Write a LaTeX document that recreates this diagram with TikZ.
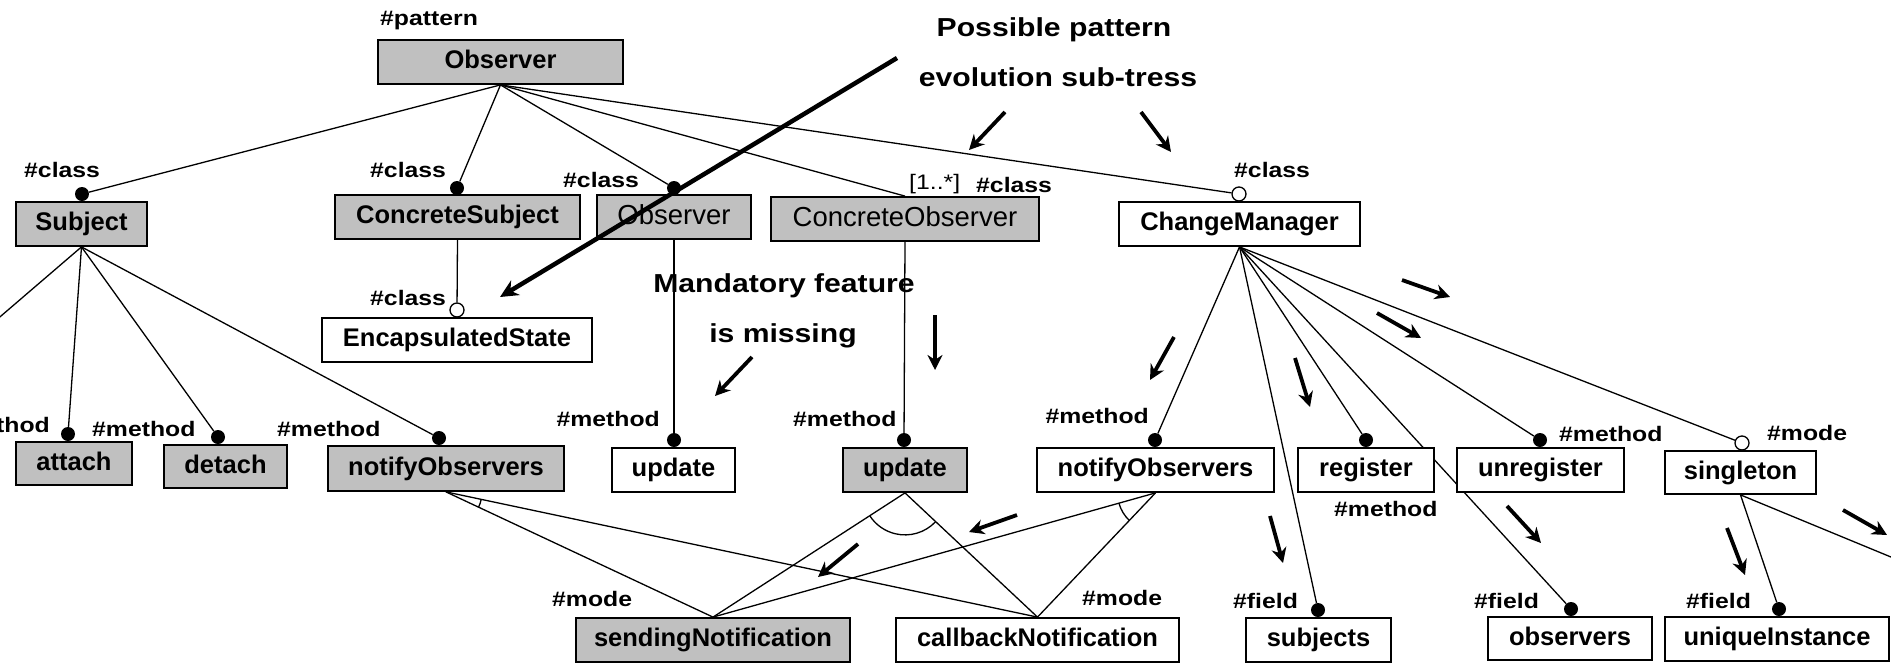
\documentclass[tikz,border=0pt]{standalone}
\usepackage{fontspec}
\setmainfont{Liberation Sans}
\newfontfamily\lblfont[FakeStretch=1.18]{Liberation Sans}
\newfontfamily\annfont[FakeStretch=1.16]{Liberation Sans}
\usetikzlibrary{arrows.meta}
\definecolor{boxgray}{RGB}{192,192,192}
\pgfdeclarelayer{back}
\pgfdeclarelayer{bg}
\pgfsetlayers{back,bg,main}
\begin{document}
\begin{tikzpicture}[x=1pt,y=-1pt,
  bx/.style={draw=black, line width=1.8pt, inner sep=0pt, minimum height=44pt,
    text height=18.5pt, text depth=5.5pt, font=\fontsize{25.5}{28}\selectfont\bfseries},
  gbx/.style={bx, fill=boxgray},
  wbx/.style={bx, fill=white},
  thin/.style={font=\fontsize{27.5}{30}\selectfont, text height=19.5pt, text depth=4.5pt},
  ln/.style={line width=1.3pt},
  dot/.style={circle, fill=black, inner sep=0pt, minimum size=14pt},
  odot/.style={circle, draw=black, fill=white, line width=1.3pt, inner sep=0pt, minimum size=14pt},
  lbl/.style={font=\lblfont\fontsize{21}{24}\selectfont\bfseries, inner sep=0pt},
  lblr/.style={font=\lblfont\fontsize{21}{24}\selectfont, inner sep=0pt},
  ann/.style={font=\annfont\fontsize{26}{30}\selectfont\bfseries, inner sep=0pt},
  arr/.style={line width=3.8pt, -{Stealth[length=15pt,width=15pt]}},
  bigarr/.style={line width=4.5pt, -{Stealth[length=18pt,width=17pt]}}
]
\useasboundingbox (0,0) rectangle (1891,662);
\clip (0,0) rectangle (1891,662);
\begin{pgfonlayer}{back}
\fill[white] (0,0) rectangle (1891,662);
\end{pgfonlayer}

% boxes
\node[gbx, minimum width=245pt] (root) at (500.5,62) {Observer};
\node[gbx, minimum width=131pt] (subj) at (81.5,224) {Subject};
\node[gbx, minimum width=245pt] (cs) at (457.5,217) {ConcreteSubject};
\node[gbx, thin, minimum width=154pt] (obs2) at (674,217) {Observer};
\node[gbx, thin, minimum width=268pt] (co) at (905,219) {ConcreteObserver};
\node[wbx, minimum width=241pt] (cm) at (1239.5,224) {ChangeManager};
\node[wbx, minimum width=270pt] (es) at (457,340) {EncapsulatedState};
\node[gbx, minimum width=116pt, minimum height=43pt] (attach) at (74,463.5) {attach};
\node[gbx, minimum width=123pt, minimum height=43pt] (detach) at (225.5,466.5) {detach};
\node[gbx, minimum width=236pt, minimum height=45pt] (ng) at (446,468.5) {notifyObservers};
\node[wbx, minimum width=123pt] (upw) at (673.5,470) {update};
\node[gbx, minimum width=124pt] (upg) at (905,470) {update};
\node[wbx, minimum width=237pt] (nw) at (1155.5,470) {notifyObservers};
\node[wbx, minimum width=136pt] (reg) at (1366,470) {register};
\node[wbx, minimum width=167pt] (unreg) at (1540.5,470) {unregister};
\node[wbx, minimum width=151pt, minimum height=43pt] (single) at (1740.5,472.5) {singleton};
\node[wbx, minimum width=145pt] (subjects) at (1318.5,640) {subjects};
\node[wbx, minimum width=164pt, minimum height=43pt] (observers) at (1570,638.5) {observers};
\node[wbx, minimum width=224pt] (ui) at (1777,639) {uniqueInstance};
\node[gbx, minimum width=274pt] (sn) at (713,640) {sendingNotification};
\node[wbx, minimum width=283pt] (cn) at (1037.5,640) {callbackNotification};

% dots
\node[dot] (dsubj) at (82,194) {};
\node[dot] (dcs) at (457,188) {};
\node[dot] (dobs2) at (674,188) {};
\node[odot] (dcm) at (1239,194) {};
\node[odot] (des) at (457,310) {};
\node[dot] (dattach) at (68,434) {};
\node[dot] (ddetach) at (218,437) {};
\node[dot] (dng) at (439,438) {};
\node[dot] (dupw) at (674,440) {};
\node[dot] (dupg) at (904,440) {};
\node[dot] (dnw) at (1155,440) {};
\node[dot] (dreg) at (1366,440) {};
\node[dot] (dunreg) at (1540,440) {};
\node[odot] (dsingle) at (1742,443) {};
\node[dot] (dsubjects) at (1318,610) {};
\node[dot] (dobservers) at (1571,609) {};
\node[dot] (dui) at (1779,609) {};

\coordinate (offL) at (-20,334);
\coordinate (offR) at (1920,569);

% connectors
\begin{pgfonlayer}{bg}
\draw[ln] (root.south) -- (dsubj);
\draw[ln] (root.south) -- (dcs);
\draw[ln] (root.south) -- (dobs2);
\draw[ln] (root.south) -- (co.north);
\draw[ln] (root.south) -- (dcm);
\draw[ln] (subj.south) -- (offL);
\draw[ln] (subj.south) -- (dattach);
\draw[ln] (subj.south) -- (ddetach);
\draw[ln] (subj.south) -- (dng);
\draw[ln] (cs.south) -- (des);
\draw[ln] (obs2.south) -- (dupw);
\draw[ln] (co.south) -- (dupg);
\draw[ln] (cm.south) -- (dnw);
\draw[ln] (cm.south) -- (dsubjects);
\draw[ln] (cm.south) -- (dreg);
\draw[ln] (cm.south) -- (dobservers);
\draw[ln] (cm.south) -- (dunreg);
\draw[ln] (cm.south) -- (dsingle);
\draw[ln] (single.south) -- (dui);
\draw[ln] (single.south) -- (offR);
\draw[ln] (ng.south) -- (sn.north);
\draw[ln] (ng.south) -- (cn.north);
\draw[ln] (upg.south) -- (sn.north);
\draw[ln] (upg.south) -- (cn.north);
\draw[ln] (nw.south) -- (sn.north);
\draw[ln] (nw.south) -- (cn.north);
\draw[ln] ([shift={(12.1:36)}]ng.south) arc[start angle=12.1, end angle=25.4, radius=36];
\draw[ln] ([shift={(43.6:42)}]upg.south) arc[start angle=43.6, end angle=146.7, radius=42];
\draw[ln] ([shift={(133.1:38)}]nw.south) arc[start angle=133.1, end angle=164.1, radius=38];
\end{pgfonlayer}

% labels
\node[lbl, anchor=base west] (lpat) at (380,25) {\#pattern};
\node[lbl, anchor=base west] (l1) at (24,177) {\#class};
\node[lbl, anchor=base west] (l2) at (370,177) {\#class};
\node[lbl, anchor=base west] (l3) at (563,187) {\#class};
\node[lblr, anchor=base west] (lmult) at (909,189) {[1..*]};
\node[lbl, anchor=base west] (l4) at (976,192) {\#class};
\node[lbl, anchor=base west] (l5) at (1234,177) {\#class};
\node[lbl, anchor=base west] (l6) at (370,305) {\#class};
\node[lbl, anchor=base east] (l7) at (50,432) {\#method};
\node[lbl, anchor=base west] (l8) at (92,436) {\#method};
\node[lbl, anchor=base west] (l9) at (277,436) {\#method};
\node[lbl, anchor=base east] (l10) at (660,426) {\#method};
\node[lbl, anchor=base west] (l11) at (793,426) {\#method};
\node[lbl, anchor=base east] (l12) at (1149,423) {\#method};
\node[lbl, anchor=base west] (l13) at (1559,441) {\#method};
\node[lbl, anchor=base west] (l14) at (1334,516) {\#method};
\node[lbl, anchor=base west] (l15) at (1767,440) {\#mode};
\node[lbl, anchor=base west] (l16) at (1233,608) {\#field};
\node[lbl, anchor=base west] (l17) at (1474,608) {\#field};
\node[lbl, anchor=base west] (l18) at (1686,608) {\#field};
\node[lbl, anchor=base west] (l19) at (552,606) {\#mode};
\node[lbl, anchor=base west] (l20) at (1082,605) {\#mode};

% annotations
\node[ann, anchor=base] (a1) at (1054,36) {Possible pattern};
\node[ann, anchor=base] (a2) at (1058,86) {evolution sub-tress};
\node[ann, anchor=base] (a3) at (784,292) {Mandatory feature};
\node[ann, anchor=base] (a4) at (783,342) {is missing};

% arrows
\coordinate (A1s) at (897,58);   \coordinate (A1e) at (500,297);
\coordinate (A2s) at (1005,112); \coordinate (A2e) at (969,150);
\coordinate (A3s) at (1141,112); \coordinate (A3e) at (1171,152);
\coordinate (A4s) at (752,357);  \coordinate (A4e) at (715,396);
\coordinate (A5s) at (935,315);  \coordinate (A5e) at (935,370);
\coordinate (A6s) at (1402,280); \coordinate (A6e) at (1450,297);
\coordinate (A7s) at (1377,313); \coordinate (A7e) at (1421,338);
\coordinate (A8s) at (1174,337); \coordinate (A8e) at (1150,380);
\coordinate (A9s) at (1295,358); \coordinate (A9e) at (1310,407);
\coordinate (A10s) at (1270,516); \coordinate (A10e) at (1283,563);
\coordinate (A11s) at (1507,506); \coordinate (A11e) at (1541,543);
\coordinate (A12s) at (1727,528); \coordinate (A12e) at (1745,575);
\coordinate (A13s) at (1843,510); \coordinate (A13e) at (1887,535);
\coordinate (A14s) at (1017,515); \coordinate (A14e) at (969,532);
\coordinate (A15s) at (858,544);  \coordinate (A15e) at (818,577);
\draw[bigarr] (A1s) -- (A1e);
\foreach \i in {2,...,15} { \draw[arr] (A\i s) -- (A\i e); }
\end{tikzpicture}
\end{document}
